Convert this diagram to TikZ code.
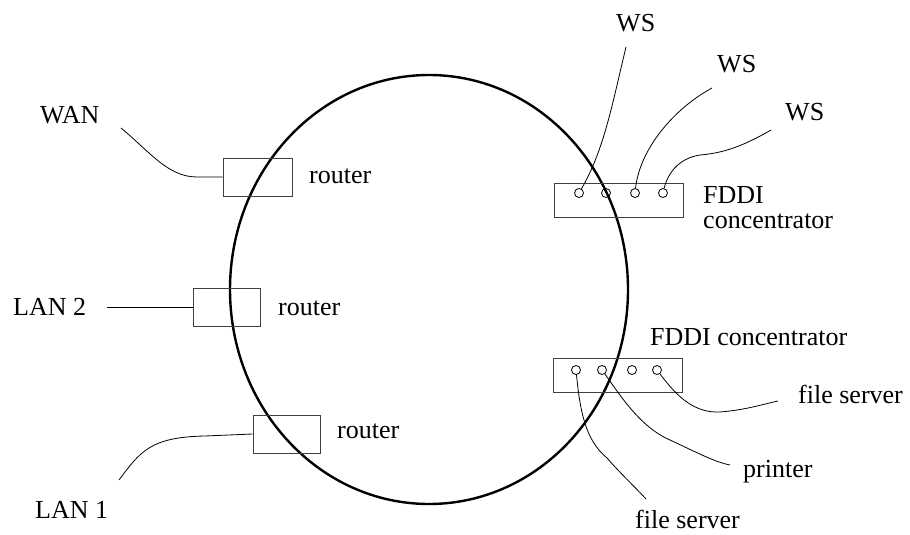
\documentclass[tikz,border=0pt]{standalone}
\usepackage{fontspec}
\setmainfont{Liberation Serif}
\begin{document}
\begin{tikzpicture}[x=1pt,y=-1pt,
  lbl/.style={anchor=base west,inner sep=0pt,font=\fontsize{26}{25}\selectfont},
  box/.style={draw=black!75,line width=1pt,rectangle,inner sep=0pt},
  port/.style={draw=black,line width=0.8pt,circle,inner sep=0pt,minimum size=9pt},
  wire/.style={line width=0.8pt},
  ring/.style={line width=2.4pt}]
\useasboundingbox (0,0) rectangle (910,535);
% ring
\draw[ring] (429,289.5) ellipse [x radius=199pt, y radius=214.5pt];
% routers
\node[box,minimum width=69pt,minimum height=38pt] (r1) at (257.5,177) {};
\node[box,minimum width=67pt,minimum height=38pt] (r2) at (226.5,307) {};
\node[box,minimum width=67pt,minimum height=38pt] (r3) at (286.5,434) {};
\node[lbl] (r1l) at (309,183) {router};
\node[lbl] (r2l) at (278,315) {router};
\node[lbl] (r3l) at (337,438) {router};
% concentrators
\node[box,minimum width=129pt,minimum height=34pt] (c1) at (618.5,200) {};
\node[box,minimum width=129pt,minimum height=34pt] (c2) at (617.5,375) {};
\node[port] (p11) at (579,193) {};
\node[port] (p12) at (606,193) {};
\node[port] (p13) at (635,193) {};
\node[port] (p14) at (663,193) {};
\node[port] (p21) at (576,370) {};
\node[port] (p22) at (602,370) {};
\node[port] (p23) at (632,370) {};
\node[port] (p24) at (657,370) {};
\node[lbl] (c1a) at (703,203) {FDDI};
\node[lbl] (c1b) at (703,228) {concentrator};
\node[lbl] (c2l) at (650,345) {FDDI concentrator};
% external labels
\node[lbl] (wan) at (40,123) {WAN};
\node[lbl] (lan2) at (13,315) {LAN 2};
\node[lbl] (lan1) at (35,518) {LAN 1};
\node[lbl] (ws1) at (616,32) {WS};
\node[lbl] (ws2) at (717,72) {WS};
\node[lbl] (ws3) at (785,120) {WS};
\node[lbl] (fs1) at (798,403) {file server};
\node[lbl] (prn) at (743,477) {printer};
\node[lbl] (fs2) at (635,528) {file server};
% wire ends
\coordinate (wanE) at (121,128);
\coordinate (lan2E) at (107,307);
\coordinate (lan1E) at (119,480);
\coordinate (ws1E) at (626,47);
\coordinate (ws2E) at (712,88);
\coordinate (ws3E) at (771,130);
\coordinate (fs1E) at (778,401);
\coordinate (prnE) at (730,465);
\coordinate (fs2E) at (646,499);
% wires
\draw[wire] (wanE) .. controls (150,152) and (168,177) .. (197,177) -- (r1.west);
\draw[wire] (lan2E) -- (r2.west);
\draw[wire] (lan1E) .. controls (140,452) and (150,437) .. (205,436) -- (r3.west);
\draw[wire] (ws1E) .. controls (612,105) and (604,150) .. (p11);
\draw[wire] (ws2E) .. controls (675,108) and (640,148) .. (p13);
\draw[wire] (ws3E) .. controls (745,145) and (725,153) .. (700,155) .. controls (680,158) and (668,172) .. (p14);
\draw[wire] (p24) .. controls (678,398) and (695,413) .. (720,412) .. controls (745,410) and (760,405) .. (fs1E);
\draw[wire] (p22) .. controls (620,395) and (640,427) .. (670,440) .. controls (700,454) and (715,462) .. (prnE);
\draw[wire] (p21) .. controls (580,410) and (585,440) .. (607,458) .. controls (620,473) and (635,487) .. (fs2E);
\end{tikzpicture}
\end{document}
